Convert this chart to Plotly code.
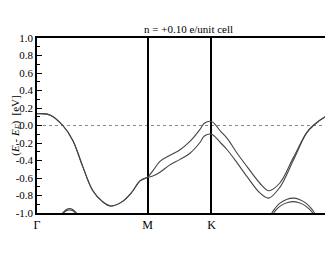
import plotly.graph_objects as go

# high-symmetry points along the path (k units)
kpt_pos = [0.0, 0.577, 0.911, 1.577]
kpt_lab = ["Γ", "M", "K", "Γ"]

# main bands (spin-split along M-K-Γ, degenerate along Γ-M)
k_main = [0.0, 0.067, 0.135, 0.187, 0.239, 0.290, 0.342, 0.385, 0.445, 0.496, 0.539, 0.577,
          0.608, 0.642, 0.694, 0.745, 0.797, 0.849, 0.874, 0.911,
          0.960, 0.994, 1.046, 1.097, 1.164, 1.209, 1.267, 1.338, 1.406, 1.443, 1.525, 1.577]
band_up = [0.135, 0.12, 0.0, -0.17, -0.47, -0.74, -0.87, -0.92, -0.87, -0.76, -0.63, -0.59,
           -0.51, -0.41, -0.34, -0.28, -0.185, -0.05, 0.025, 0.045,
           -0.07, -0.15, -0.32, -0.47, -0.66, -0.745, -0.66, -0.37, -0.09, 0.0, 0.12, 0.135]
band_dn = [0.135, 0.12, 0.0, -0.17, -0.47, -0.74, -0.87, -0.92, -0.87, -0.76, -0.63, -0.595,
           -0.575, -0.535, -0.45, -0.39, -0.32, -0.20, -0.12, -0.10,
           -0.20, -0.28, -0.43, -0.585, -0.77, -0.83, -0.71, -0.40, -0.09, 0.0, 0.12, 0.135]

# lower bands near Γ
k_low1 = [0.108, 0.134, 0.152, 0.170, 0.188, 0.206, 0.232]
low1_a = [-1.08, -1.0, -0.962, -0.95, -0.962, -1.0, -1.08]
low1_b = [-1.08, -1.01, -0.975, -0.965, -0.975, -1.01, -1.08]

# lower bands between K and Γ
k_low2a = [1.211, 1.226, 1.242, 1.267, 1.303, 1.338, 1.370, 1.406, 1.433, 1.449, 1.463]
low2_a = [-1.06, -1.0, -0.95, -0.89, -0.845, -0.83, -0.845, -0.89, -0.95, -1.0, -1.06]
k_low2b = [1.221, 1.236, 1.252, 1.278, 1.309, 1.338, 1.365, 1.396, 1.422, 1.440, 1.455]
low2_b = [-1.05, -1.0, -0.955, -0.91, -0.88, -0.87, -0.88, -0.91, -0.955, -1.0, -1.05]

y_ticks = [-1.0, -0.8, -0.6, -0.4, -0.2, 0.0, 0.2, 0.4, 0.6, 0.8, 1.0]

FONT = "Liberation Serif"
line_col = "#444444"

fig = go.Figure()
for xs, ys in [(k_main, band_up), (k_main, band_dn), (k_low1, low1_a), (k_low1, low1_b),
               (k_low2a, low2_a), (k_low2b, low2_b)]:
    fig.add_trace(go.Scatter(x=xs, y=ys, mode="lines",
                             line=dict(color=line_col, width=1.1, shape="spline", smoothing=1.0),
                             showlegend=False, hoverinfo="skip"))

fig.add_shape(type="line", xref="paper", yref="y", x0=0, x1=1, y0=0, y1=0,
              line=dict(color="#888888", width=1, dash="dot"), layer="below")

fig.update_layout(
    width=333, height=258,
    margin=dict(l=29, r=0, t=30, b=53),
    paper_bgcolor="white", plot_bgcolor="white",
    font=dict(family=FONT, size=11, color="black"),
    xaxis=dict(range=[0, 1.577], tickvals=kpt_pos, ticktext=kpt_lab,
               showgrid=True, gridcolor="black", gridwidth=1.5,
               showline=True, linecolor="black", linewidth=1.5, mirror=True,
               ticks="", zeroline=False, tickfont=dict(size=12, family=FONT)),
    yaxis=dict(range=[-1.0, 1.0], tickvals=y_ticks,
               ticktext=["%.1f" % v for v in y_ticks],
               showgrid=False, zeroline=False,
               showline=True, linecolor="black", linewidth=1.5, mirror=True,
               ticks="inside", ticklen=5, tickwidth=1, tickcolor="black",
               minor=dict(ticks="inside", ticklen=3, dtick=0.1, tickcolor="black", showgrid=False),
               tickfont=dict(size=11, family=FONT)),
    annotations=[
        dict(text="n = +0.10 e/unit cell", xref="paper", yref="paper", x=0.5, y=1.051,
             xanchor="center", yanchor="middle", showarrow=False, font=dict(size=11, family=FONT)),
        dict(text="(<i>E</i> - <i>E</i><sub><i>F</i></sub>)\u00a0\u00a0[eV]", xref="paper", yref="paper",
             x=-0.0724, y=0.5, xanchor="center", yanchor="middle", textangle=-90,
             showarrow=False, font=dict(size=11, family=FONT)),
    ],
)

fig.write_html("out.html")
